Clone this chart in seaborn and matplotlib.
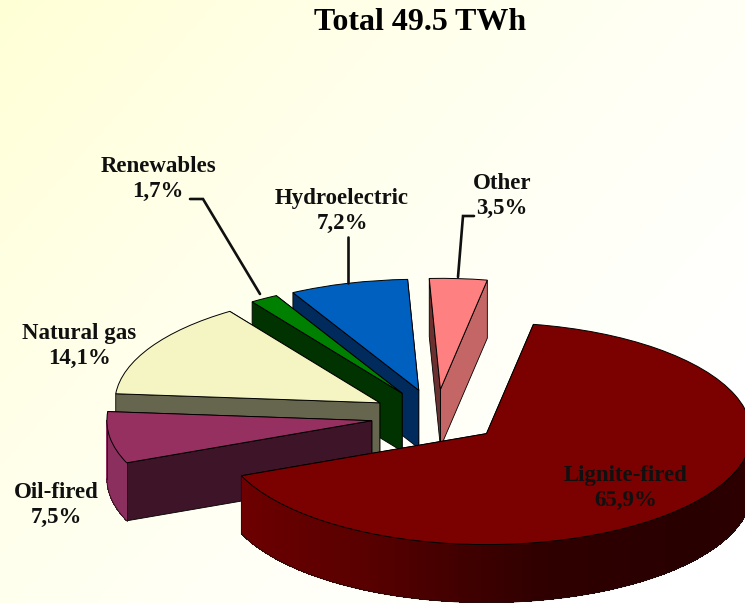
import numpy as np
import matplotlib
matplotlib.use("Agg")
import matplotlib.pyplot as plt
from matplotlib.transforms import Affine2D
import seaborn as sns

# Chart data, in pie order (clockwise)
labels = ["Lignite-fired", "Oil-fired", "Natural gas", "Renewables", "Hydroelectric", "Other"]
shares = [65.9, 7.5, 14.1, 1.7, 7.2, 3.5]
title = "Total 49.5 TWh"

# Colours
top_colors = ["#7b0000", "#963060", "#f5f5c4", "#008000", "#0060c0", "#ff8080"]
rim_colors = [None, "#8a2f5e", "#8f8f70", "#004000", "#002b5c", "#c46666"]
face_colors = ["#400000", "#3d1428", "#66664f", "#003300", "#002b5c", "#6b3030"]
right_face_colors = ["#400000", "#3d1428", "#66664f", "#003300", "#002b5c", "#c46666"]

# Look of the pie: px per unit, centre, thickness
W, H = 745, 603
RX, RY = 265, 111
CX, CY = 436, 416.5
DEPTH = 58 / RY
EXPLODE = 0.245
START = 79.8

# Label placement in pixels from the top left
label_pos = [(626, 488), (56, 505), (79, 346), (158, 179), (342, 211), (502, 196)]
leaders = {
    "Renewables": [(190, 199), (203, 199), (260, 294)],
    "Hydroelectric": [(348, 237), (348, 283)],
    "Other": [(474, 216), (463, 216), (458, 277)],
}

sns.set_theme(style="white")
plt.rcParams["font.family"] = ["Liberation Serif", "DejaVu Serif"]

fig = plt.figure(figsize=(W / 100, H / 100), dpi=100)
ax = fig.add_axes([0, 0, 1, 1])
px = Affine2D().scale(1, -1).translate(0, H)

wedges, _ = ax.pie(
    shares,
    explode=[EXPLODE] * len(shares),
    startangle=START,
    counterclock=False,
    colors=top_colors,
    wedgeprops=dict(edgecolor="black", linewidth=0.7),
)

# back to front
draw_order = [5, 4, 3, 2, 1, 0]
for rank, i in enumerate(draw_order):
    w = wedges[i]
    z = 10 + rank * 3
    w.set_zorder(z + 2)
    cx, cy = w.center

    # cut faces
    for theta, col in [(w.theta1, right_face_colors[i]), (w.theta2, face_colors[i])]:
        ex = cx + w.r * np.cos(np.radians(theta))
        ey = cy + w.r * np.sin(np.radians(theta))
        ax.fill([cx, ex, ex, cx], [cy, ey, ey - DEPTH, cy - DEPTH],
                facecolor=col, edgecolor="black", linewidth=0.6, zorder=z)

    # rim on the front half only
    t = np.linspace(w.theta1, w.theta2, 240)
    t = t[np.sin(np.radians(t)) < 0]
    if len(t) < 2:
        continue
    x = cx + w.r * np.cos(np.radians(t))
    y = cy + w.r * np.sin(np.radians(t))
    if rim_colors[i] is None:
        strip_colors = sns.blend_palette(["#6e0000", "#5a0000", "#300000", "#280000", "#300000"], len(t) - 1)
    else:
        strip_colors = [rim_colors[i]] * (len(t) - 1)
    for k, col in enumerate(strip_colors):
        ax.fill([x[k], x[k + 1], x[k + 1], x[k]],
                [y[k], y[k + 1], y[k + 1] - DEPTH, y[k] - DEPTH],
                facecolor=col, edgecolor="none", antialiased=False, zorder=z + 1)
    ax.plot(x, y - DEPTH, color="#201010", linewidth=0.6, zorder=z + 1)
    ax.plot([x[0], x[0]], [y[0], y[0] - DEPTH], color="#201010", linewidth=0.6, zorder=z + 1)
    ax.plot([x[-1], x[-1]], [y[-1], y[-1] - DEPTH], color="#201010", linewidth=0.6, zorder=z + 1)

# soft yellow background
xx, yy = np.meshgrid(np.linspace(0, 1, 200), np.linspace(0, 1, 200))
shade = np.clip(xx * 0.7 + yy * 0.5, 0, 1)
cmap = sns.blend_palette(["#ffffd6", "#ffffe8", "#fffff5", "#ffffff"], as_cmap=True)
ax.imshow(shade, cmap=cmap, vmin=0, vmax=1, aspect="auto", zorder=0,
          extent=(-CX / RX, (W - CX) / RX, (CY - H) / RY, CY / RY), origin="upper")

ax.set_aspect("auto")
ax.set_xlim(-CX / RX, (W - CX) / RX)
ax.set_ylim((CY - H) / RY, CY / RY)
ax.set_axis_off()

# leader lines
for pts in leaders.values():
    lx, ly = zip(*pts)
    ax.plot(lx, ly, color="#101010", linewidth=1.9, transform=px, zorder=40,
            solid_joinstyle="miter")

# labels
for name, share, (lx, ly) in zip(labels, shares, label_pos):
    ax.text(lx, ly, name + "\n" + f"{share:.1f}%".replace(".", ","),
            transform=px, ha="center", va="center", fontsize=16.5, fontweight="bold",
            color="#101010", linespacing=1.22, zorder=50)

ax.text(420, 22, title, transform=px, ha="center", va="center",
        fontsize=23, fontweight="bold", color="black", zorder=50)

fig.savefig("out.png", dpi=100)
